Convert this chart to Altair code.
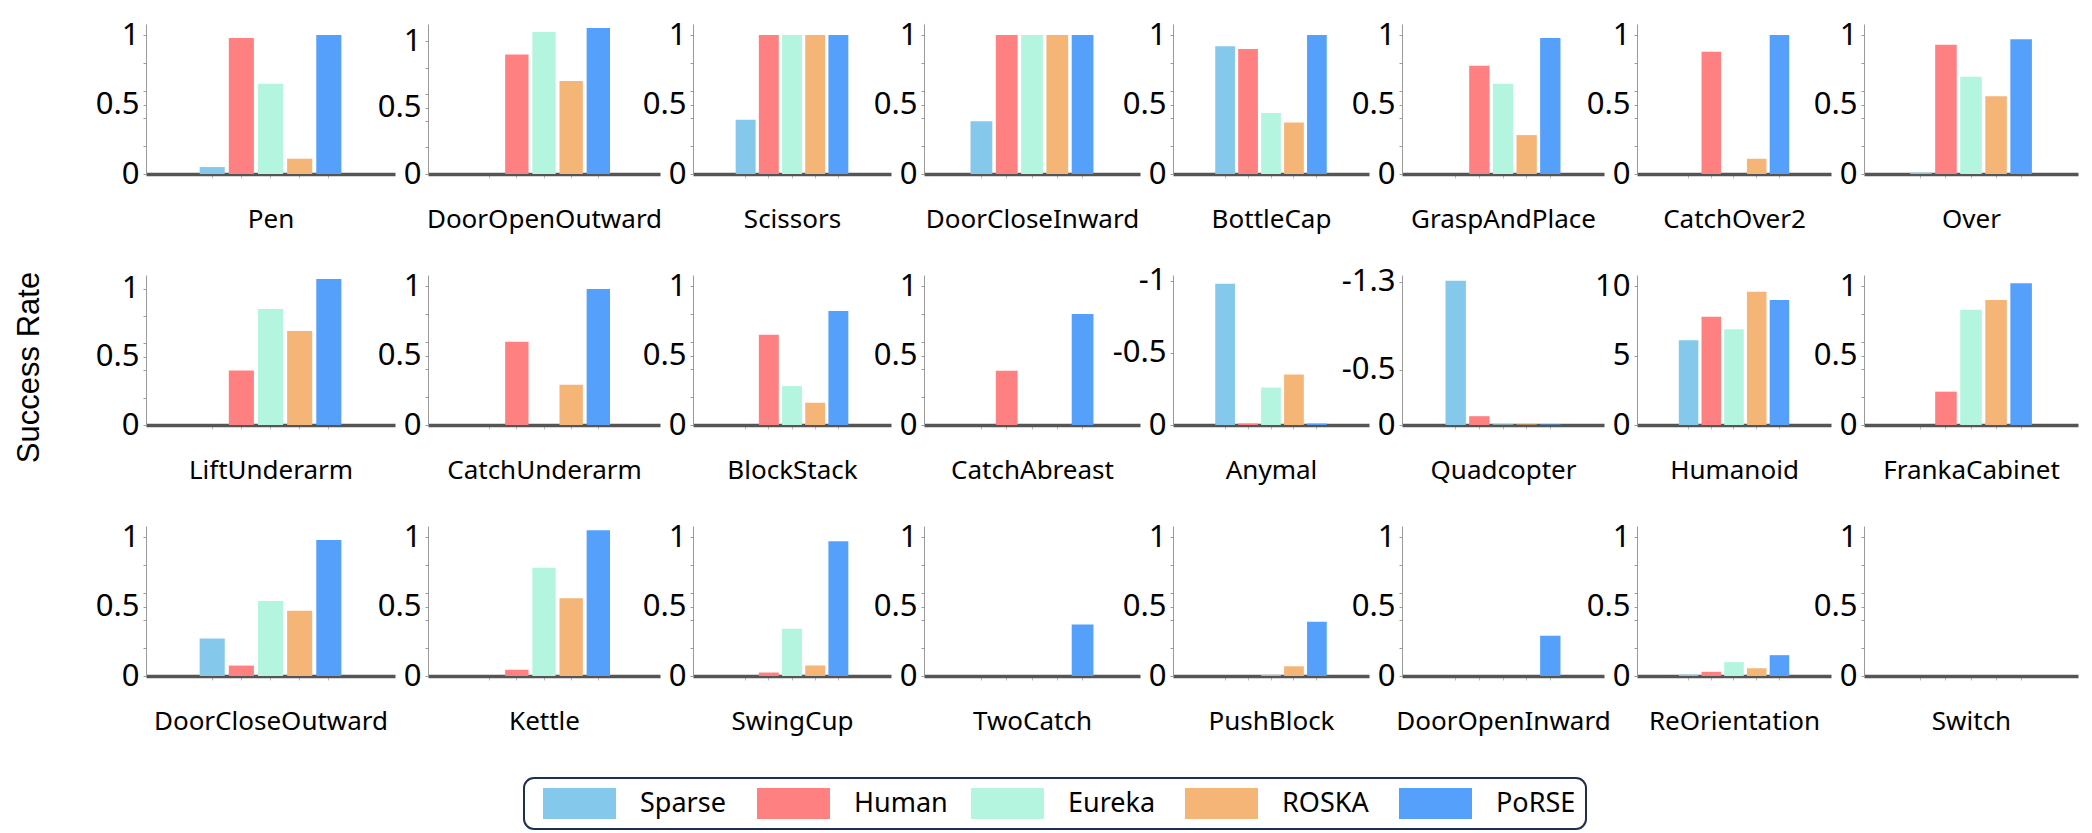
import altair as alt
import pandas as pd

TASKS = ["Pen", "DoorOpenOutward", "Scissors", "DoorCloseInward", "BottleCap", "GraspAndPlace", "CatchOver2", "Over",
         "LiftUnderarm", "CatchUnderarm", "BlockStack", "CatchAbreast", "Anymal", "Quadcopter", "Humanoid", "FrankaCabinet",
         "DoorCloseOutward", "Kettle", "SwingCup", "TwoCatch", "PushBlock", "DoorOpenInward", "ReOrientation", "Switch"]
METHODS = ["Sparse", "Human", "Eureka", "ROSKA", "PoRSE"]
COLORS = ["#84C8EC", "#FF8080", "#B4F5DF", "#F4B577", "#55A0FA"]

SPARSE = [0.05, 0.0, 0.39, 0.38, 0.92, 0.0, 0.0, 0.01,
          0.0, 0.0, 0.0, 0.0, -0.98, -1.31, 6.1, 0.0,
          0.27, 0.0, 0.0, 0.0, 0.0, 0.0, 0.01, 0.0]
HUMAN = [0.98, 0.90, 1.0, 1.0, 0.90, 0.78, 0.88, 0.93,
         0.40, 0.60, 0.65, 0.39, -0.01, -0.08, 7.8, 0.24,
         0.075, 0.045, 0.025, 0.0, 0.0, 0.0, 0.03, 0.0]
EUREKA = [0.65, 1.07, 1.0, 1.0, 0.44, 0.65, 0.0, 0.70,
          0.85, 0.0, 0.28, 0.0, -0.26, -0.005, 6.9, 0.83,
          0.54, 0.78, 0.34, 0.0, 0.005, 0.0, 0.10, 0.0]
ROSKA = [0.11, 0.70, 1.0, 1.0, 0.37, 0.28, 0.11, 0.56,
         0.69, 0.29, 0.16, 0.0, -0.35, -0.005, 9.6, 0.90,
         0.47, 0.56, 0.076, 0.0, 0.07, 0.0, 0.055, 0.0]
PORSE = [1.0, 1.10, 1.0, 1.0, 1.0, 0.98, 1.0, 0.97,
         1.07, 0.98, 0.82, 0.80, -0.01, -0.005, 9.0, 1.02,
         0.98, 1.05, 0.97, 0.37, 0.39, 0.29, 0.15, 0.0]

# tick marks every 0.2 with labels at 0, 0.5 and 1 (special panels have their own)
DEFAULT_TICKS = [0, 0.2, 0.4, 0.5, 0.6, 0.8, 1]
DEFAULT_LABELS = [0, 0.5, 1]
TICK_VALUES = {"Anymal": [-1, -0.5, 0], "Quadcopter": [-1.3, -0.5, 0], "Humanoid": [0, 5, 10]}
Y_TITLE_TASK = "LiftUnderarm"
Y_TITLE = "Success Rate"

# empty slots either side of the five bars (axis space only)
X_DOMAIN = [" "] + METHODS + ["  "]

FONT = "Noto Sans"
TITLE_FONT = "Liberation Sans"
COL_W = [249, 232, 198, 216, 196, 202, 194, 214]
H = 150


def panel(i, task):
    vals = [SPARSE[i], HUMAN[i], EUREKA[i], ROSKA[i], PORSE[i]]
    df = pd.DataFrame({"method": METHODS, "value": vals})
    ticks = TICK_VALUES.get(task, DEFAULT_TICKS)
    labels = TICK_VALUES.get(task, DEFAULT_LABELS)
    if min(ticks) < 0:
        lo = min(min(vals), min(ticks)) * 1.04
        yscale = alt.Scale(domain=[lo, 0], reverse=True, nice=False)
    else:
        top = max(max(vals) + 0.03 * max(ticks), max(ticks) * 1.08)
        yscale = alt.Scale(domain=[0, top], nice=False)

    label_test = " || ".join(f"abs(datum.value - ({v})) < 1e-9" for v in labels)
    yaxis_kwargs = dict(
        values=ticks, grid=False, domainColor="#9a9a9a", domainWidth=1,
        tickColor="#9a9a9a", tickSize=3, labelFontSize=31, labelPadding=4,
        labelColor="black", labelFont=FONT,
        labelExpr=f"({label_test}) ? replace(format(datum.value, '~g'), '\u2212', '-') : ''",
    )
    if task == Y_TITLE_TASK:
        yaxis = alt.Axis(title=Y_TITLE, titleFontSize=31, titleFontWeight="normal",
                         titleFont=TITLE_FONT, titleColor="black", titleX=-101, titleY=92,
                         **yaxis_kwargs)
    else:
        yaxis = alt.Axis(title=None, **yaxis_kwargs)

    return alt.Chart(df).mark_bar().encode(
        x=alt.X("method:N", sort=METHODS,
                scale=alt.Scale(domain=X_DOMAIN, paddingInner=0.14, paddingOuter=0.84),
                axis=alt.Axis(values=METHODS, labels=False, title=task, domainColor="#555555",
                              domainWidth=3.5, tickColor="#bbbbbb", tickSize=4, titleFontSize=26,
                              titleFontWeight="normal", titleFont=FONT, titleColor="black",
                              titlePadding=28)),
        y=alt.Y("value:Q", scale=yscale, axis=yaxis),
        color=alt.Color("method:N", scale=alt.Scale(domain=METHODS, range=COLORS),
                        legend=alt.Legend(orient="none", legendX=378, legendY=754,
                                          direction="horizontal", title=None)),
    ).properties(width=COL_W[i % 8], height=H)


charts = [panel(i, t) for i, t in enumerate(TASKS)]

chart = alt.concat(
    *charts, columns=8, spacing=alt.RowColnumber(row=101, column=33), bounds="flush",
    align="each", padding={"left": 5, "top": 11, "right": 5, "bottom": 5},
).configure(font=FONT).configure_view(stroke="transparent", strokeWidth=0).configure_legend(
    symbolType="M-0.42,-1H4.29V1H-0.42Z", symbolSize=961, symbolStrokeWidth=0,
    symbolOpacity=1, labelFontSize=27, labelFont=FONT, labelColor="black",
    labelOffset=75, columnPadding=14, gridAlign="all", padding=10, strokeColor="#1f2f50",
    strokeWidth=2, cornerRadius=10,
)

chart.save("out.html", embed_options={"renderer": "svg", "actions": False})
